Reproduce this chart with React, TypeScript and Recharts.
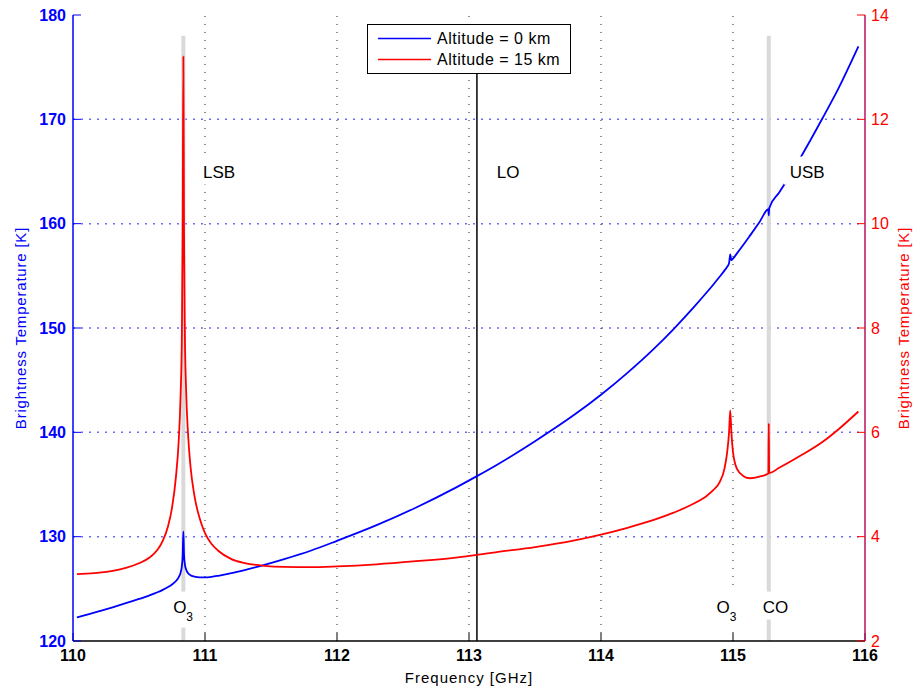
import React from 'react';
import {
    ComposedChart,
    Line,
    XAxis,
    YAxis,
    ReferenceLine,
    ReferenceDot,
    Legend,
} from 'recharts';

const FONT = '"Liberation Sans", Arial, Helvetica, sans-serif';

// frequency grid [GHz], denser around the O3 and CO lines
const freqGHz = [
    110.03, 110.1, 110.2, 110.3, 110.4, 110.5, 110.58, 110.64, 110.68, 110.72,
    110.75, 110.78, 110.8, 110.815, 110.825, 110.831, 110.836, 110.841, 110.847, 110.857,
    110.872, 110.89, 110.92, 110.96, 111.0, 111.05, 111.1, 111.2, 111.3, 111.45,
    111.6, 111.8, 112.0, 112.3, 112.6, 112.9, 113.06, 113.2, 113.5, 113.8,
    114.0, 114.2, 114.4, 114.55, 114.7, 114.8, 114.85, 114.9, 114.935, 114.955,
    114.97, 114.979, 114.988, 115.0, 115.03, 115.08, 115.13, 115.2, 115.268, 115.271,
    115.274, 115.35, 115.51, 115.68, 115.8, 115.95,
];

// brightness temperature [K], altitude 0 km (left axis)
const tbGround = [
    122.25, 122.5, 122.86, 123.23, 123.62, 124.03, 124.38, 124.67, 124.9, 125.17,
    125.42, 125.75, 126.1, 126.55, 127.2, 128.2, 130.5, 128.3, 127.4, 126.85,
    126.5, 126.3, 126.17, 126.1, 126.1, 126.15, 126.25, 126.5, 126.8, 127.3,
    127.85, 128.65, 129.6, 131.1, 132.8, 134.7, 135.8, 136.8, 139.15, 141.7,
    143.6, 145.7, 148.0, 149.9, 151.95, 153.4, 154.15, 154.93, 155.5, 155.85,
    156.2, 157.05, 156.5, 156.65, 157.15, 158.0, 158.88, 160.13, 161.38, 160.8,
    161.48, 162.98, 166.3, 170.15, 173.0, 177.0,
];

// brightness temperature [K], altitude 15 km (right axis)
const tbAltitude = [
    3.28, 3.29, 3.31, 3.345, 3.4, 3.49, 3.6, 3.75, 3.92, 4.2,
    4.55, 5.15, 5.8, 6.7, 7.9, 9.9, 13.2, 9.9, 8.0, 6.8,
    5.95, 5.35, 4.78, 4.35, 4.07, 3.86, 3.73, 3.57, 3.495, 3.44,
    3.42, 3.415, 3.43, 3.47, 3.53, 3.6, 3.65, 3.7, 3.8, 3.93,
    4.04, 4.17, 4.32, 4.46, 4.63, 4.78, 4.89, 5.05, 5.3, 5.6,
    6.0, 6.42, 6.0, 5.62, 5.3, 5.16, 5.12, 5.15, 5.21, 6.17,
    5.22, 5.32, 5.55, 5.82, 6.06, 6.4,
];

const freqTicks = [110, 111, 112, 113, 114, 115, 116];
const leftTicks = [120, 130, 140, 150, 160, 170, 180];
const rightTicks = [2, 4, 6, 8, 10, 12, 14];

// spectral lines (grey bars) and local oscillator
const lineMarkers = [110.836, 115.271];
const loFreq = 113.06;
const markerSpan = [178, 120];

const annotations = [
    { text: 'LSB', sub: '', freq: 110.985, tb: 165, anchor: 'start' },
    { text: 'LO', sub: '', freq: 113.21, tb: 165, anchor: 'start' },
    { text: 'USB', sub: '', freq: 115.43, tb: 165, anchor: 'start' },
    { text: 'O', sub: '3', freq: 110.834, tb: 123.3, anchor: 'middle' },
    { text: 'O', sub: '3', freq: 114.951, tb: 123.3, anchor: 'middle' },
    { text: 'CO', sub: '', freq: 115.322, tb: 123.3, anchor: 'middle' },
];

const data = freqGHz.map((f, i) => ({ f, ground: tbGround[i], alt15: tbAltitude[i] }));

let ctx: CanvasRenderingContext2D | null = null;
function textWidth(text: string, size: number) {
    if (!text) return 0;
    if (!ctx) ctx = document.createElement('canvas').getContext('2d');
    if (!ctx) return text.length * size * 0.6;
    ctx.font = `${size}px "Liberation Sans", Arial, sans-serif`;
    return ctx.measureText(text).width;
}

function AnnotationBox({ cx, cy, ann }: any) {
    const w = textWidth(ann.text, 17) + textWidth(ann.sub, 12);
    const left = ann.anchor === 'start' ? cx : cx - w / 2;
    const h = ann.sub ? 36 : 28;
    return (
        <g>
            <rect x={left - 6} y={cy - 15} width={w + 12} height={h} fill="#ffffff" />
            <text x={left} y={cy + 6} fontSize={17} fontFamily={FONT} fill="#000">
                {ann.text}
                {ann.sub && (
                    <tspan fontSize={12} dy={8}>
                        {ann.sub}
                    </tspan>
                )}
            </text>
        </g>
    );
}

function YTitle({ viewBox, side, color }: any) {
    const { x, y, height } = viewBox;
    const cx = side === 'left' ? x + 20 : x + 38;
    const cy = y + height / 2;
    return (
        <text
            x={cx}
            y={cy}
            transform={`rotate(-90 ${cx} ${cy})`}
            textAnchor="middle"
            dominantBaseline="central"
            fill={color}
            fontSize={15}
            letterSpacing={0.8}
            fontFamily={FONT}
        >
            Brightness Temperature [K]
        </text>
    );
}

function XTitle({ viewBox }: any) {
    const { x, y, width } = viewBox;
    return (
        <text
            x={x + width / 2}
            y={y + 36}
            textAnchor="middle"
            dominantBaseline="central"
            fill="#000"
            fontSize={15}
            letterSpacing={1}
            fontFamily={FONT}
        >
            Frequency [GHz]
        </text>
    );
}

const renderLegend = ({ payload }: any) => (
    <svg width={205} height={50} style={{ display: 'block' }}>
        <rect x={0.5} y={0.5} width={203} height={49} fill="#fff" stroke="#000" />
        {(payload || []).map((p: any, i: number) => (
            <g key={i}>
                <line x1={11} x2={64} y1={14.5 + i * 21} y2={14.5 + i * 21} stroke={p.color} strokeWidth={1.5} />
                <text x={70} y={20 + i * 21} fontSize={16} fontFamily={FONT} fill="#000" letterSpacing={0.5}>
                    {p.value}
                </text>
            </g>
        ))}
    </svg>
);

export default function App() {
    return (
        <div style={{ position: 'absolute', left: 0, top: 0, background: '#fff' }}>
            <ComposedChart width={913} height={688} data={data} margin={{ top: 15, right: 0, bottom: 0, left: 0 }}>
                <XAxis
                    dataKey="f"
                    type="number"
                    domain={[110, 116]}
                    ticks={freqTicks}
                    allowDataOverflow
                    height={47}
                    axisLine={{ stroke: '#000', strokeWidth: 1.5 }}
                    tickLine={{ stroke: '#000' }}
                    tickSize={-8}
                    tickMargin={17}
                    tick={{ fill: '#000', fontSize: 16, fontWeight: 'bold', fontFamily: FONT }}
                    label={<XTitle />}
                />
                <XAxis
                    xAxisId="top"
                    orientation="top"
                    dataKey="f"
                    type="number"
                    domain={[110, 116]}
                    ticks={freqTicks}
                    allowDataOverflow
                    height={0}
                    axisLine={{ stroke: '#000', strokeWidth: 1.5 }}
                    tickLine={{ stroke: '#000' }}
                    tickSize={-8}
                    tick={false}
                />
                <YAxis
                    yAxisId="left"
                    domain={[120, 180]}
                    ticks={leftTicks}
                    allowDataOverflow
                    width={73}
                    axisLine={{ stroke: '#0000ff', strokeWidth: 1.5 }}
                    tickLine={{ stroke: '#0000ff' }}
                    tickSize={-8}
                    tickMargin={15}
                    tick={{ fill: '#0000ff', fontSize: 16, fontWeight: 'bold', fontFamily: FONT }}
                    label={<YTitle side="left" color="#0000ff" />}
                />
                <YAxis
                    yAxisId="right"
                    orientation="right"
                    domain={[2, 14]}
                    ticks={rightTicks}
                    allowDataOverflow
                    width={48}
                    axisLine={{ stroke: '#b8105e', strokeWidth: 1.5 }}
                    tickLine={{ stroke: '#ff0000' }}
                    tickSize={-8}
                    tickMargin={14}
                    tick={{ fill: '#ff0000', fontSize: 16, fontFamily: FONT }}
                    label={<YTitle side="right" color="#ff0000" />}
                />

                {/* dotted grid: blue from the left axis, black from the frequency axis */}
                {leftTicks.slice(1, -1).map((t) => (
                    <ReferenceLine
                        key={`h-${t}`}
                        yAxisId="left"
                        y={t}
                        stroke="#6a6aff"
                        strokeWidth={1.5}
                        strokeDasharray="2 6"
                    />
                ))}
                {freqTicks.slice(1, -1).map((t) => (
                    <ReferenceLine
                        key={`v-${t}`}
                        yAxisId="left"
                        x={t}
                        stroke="#222"
                        strokeDasharray="1 7"
                    />
                ))}

                {lineMarkers.map((f) => (
                    <ReferenceLine
                        key={f}
                        yAxisId="left"
                        segment={[{ x: f, y: markerSpan[0] }, { x: f, y: markerSpan[1] }]}
                        stroke="#d9d9d9"
                        strokeWidth={4}
                    />
                ))}
                <ReferenceLine
                    yAxisId="left"
                    segment={[{ x: loFreq, y: markerSpan[0] }, { x: loFreq, y: markerSpan[1] }]}
                    stroke="#000"
                    strokeWidth={1.5}
                />

                <Line
                    yAxisId="left"
                    type="monotone"
                    dataKey="ground"
                    name="Altitude = 0 km"
                    stroke="#0000ff"
                    strokeWidth={1.8}
                    dot={false}
                    isAnimationActive={false}
                />
                <Line
                    yAxisId="right"
                    type="monotone"
                    dataKey="alt15"
                    name="Altitude = 15 km"
                    stroke="#ff0000"
                    strokeWidth={1.8}
                    dot={false}
                    isAnimationActive={false}
                />

                {annotations.map((a, i) => (
                    <ReferenceDot
                        key={i}
                        yAxisId="left"
                        x={a.freq}
                        y={a.tb}
                        shape={(p: any) => <AnnotationBox cx={p.cx} cy={p.cy} ann={a} />}
                    />
                ))}

                <Legend
                    layout="vertical"
                    align="center"
                    verticalAlign="middle"
                    content={renderLegend}
                    wrapperStyle={{ left: 367, top: 24, width: 205 }}
                />
            </ComposedChart>
        </div>
    );
}
